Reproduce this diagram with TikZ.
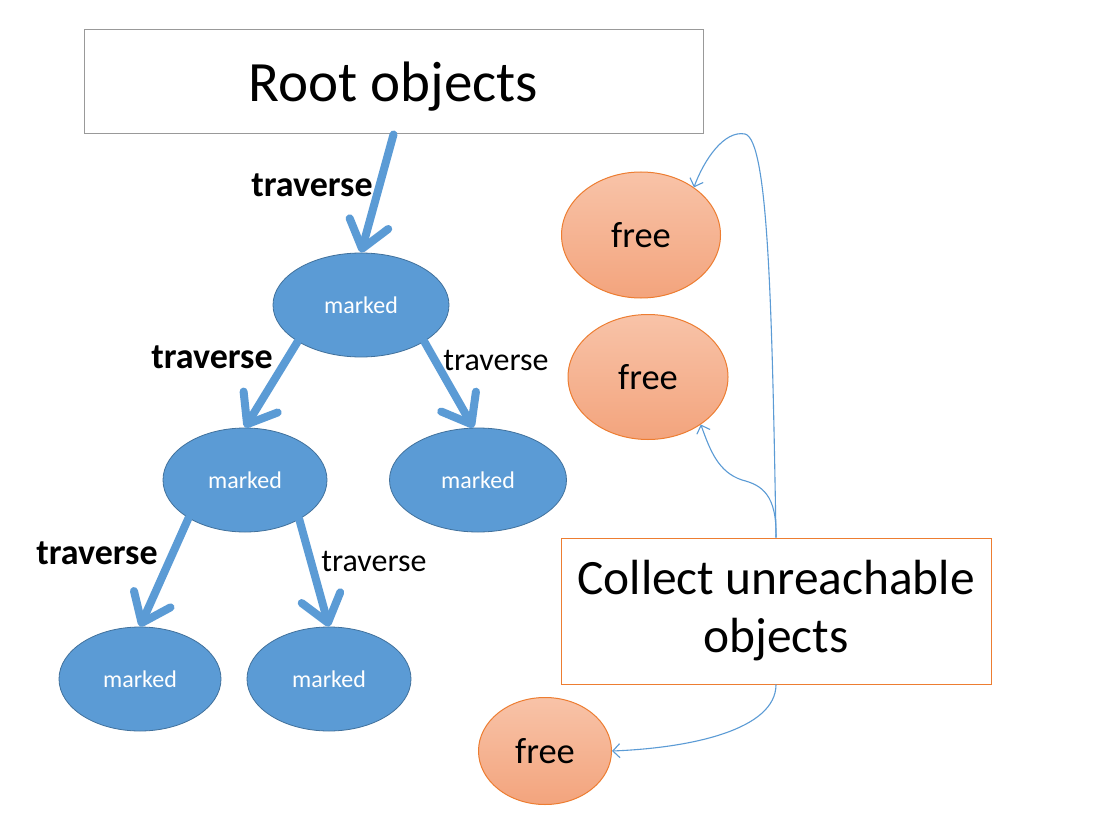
\documentclass[tikz,border=0pt]{standalone}
\usepackage{fontspec}
\setmainfont{Carlito}
\usetikzlibrary{shapes.geometric,arrows.meta}
\definecolor{mblue}{HTML}{5B9BD5}
\definecolor{mblueedge}{HTML}{41719C}
\definecolor{morange}{HTML}{ED7D31}
\definecolor{otop}{HTML}{F8C3A8}
\definecolor{obot}{HTML}{F3A47D}
\tikzset{
  markednode/.style={ellipse, draw=mblueedge, line width=0.8pt, fill=mblue, text=white, inner sep=0pt, minimum height=104pt, font=\fontsize{24}{28}\selectfont},
  freenode/.style={ellipse, draw=morange, line width=1pt, top color=otop, bottom color=obot, inner sep=0pt, font=\fontsize{36.5}{42}\selectfont},
  travarrow/.style={draw=mblue, line width=8pt, line cap=round, -{Straight Barb[length=26pt,width=40pt,round]}},
  thinarrow/.style={draw=mblue, line width=1.1pt, -{Straight Barb[length=7pt,width=14pt]}},
  travbold/.style={font=\fontsize{36}{40}\selectfont\bfseries, inner sep=0pt},
  travreg/.style={font=\fontsize{32}{36}\selectfont, inner sep=0pt},
}
\begin{document}
\begin{tikzpicture}[x=1pt,y=-1pt]
\useasboundingbox (0,0) rectangle (1097,821);
\fill[white] (0,0) rectangle (1097,821);

\node[draw=black!40, line width=1pt, minimum width=619pt, minimum height=104pt, inner sep=0pt, text depth=0pt, font=\fontsize{57}{60}\selectfont] (root) at (393.5,82) {Root objects};

\node[markednode, minimum width=176pt] (m1) at (361,305) {marked};
\node[markednode, minimum width=164pt] (m2) at (245,480) {marked};
\node[markednode, minimum width=177pt] (m3) at (478,480) {marked};
\node[markednode, minimum width=162pt] (m4) at (140,679) {marked};
\node[markednode, minimum width=164pt] (m5) at (329,679) {marked};

\node[freenode, minimum width=159pt, minimum height=126pt] (f1) at (641,235) {free};
\node[freenode, minimum width=160pt, minimum height=125pt] (f2) at (648,377) {free};
\node[freenode, minimum width=133pt, minimum height=107pt] (f3) at (545,751) {free};

\node[draw=morange, line width=1pt, minimum width=430pt, minimum height=146pt, inner sep=0pt, align=center, font=\fontsize{49.4}{58}\selectfont] (collect) at (776,611) {Collect unreachable\\objects};

\draw[travarrow] (root.south) -- (m1.north);
\draw[travarrow] (m1.210) -- (m2.north);
\draw[travarrow] (m1.330) -- (m3.95);
\draw[travarrow] (m2.214) -- (m4.north);
\draw[travarrow] (m2.324) -- (m5.north);

\node[travbold] (t1) at (312,185) {traverse};
\node[travbold] (t2) at (212,357) {traverse};
\node[travreg] (t3) at (496,360) {traverse};
\node[travbold] (t4) at (97,553) {traverse};
\node[travreg] (t5) at (374,561) {traverse};

\draw[thinarrow] (collect.north) .. controls (772,300) and (768,140) .. (745,134) .. controls (724,130) and (704,160) .. (f1.42);
\draw[thinarrow] (collect.north) .. controls (777,495) and (762,485) .. (742,480) .. controls (718,472) and (710,450) .. (f2.-42);
\draw[thinarrow] (collect.south) .. controls (776,730) and (690,748) .. (f3.east);
\end{tikzpicture}
\end{document}
